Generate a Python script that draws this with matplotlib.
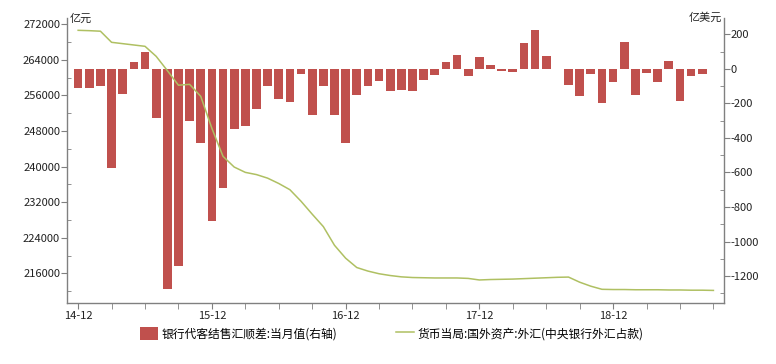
import numpy as np
import matplotlib
matplotlib.use('Agg')
import matplotlib.pyplot as plt
from matplotlib.ticker import MultipleLocator, FixedLocator

plt.rcParams['font.family'] = ['Noto Sans CJK SC', 'DejaVu Sans']
plt.rcParams['axes.unicode_minus'] = False

# months from 14-12 to 19-09
months = ['14-12'] + ['%02d-%02d' % (y, m) for y in range(15, 20) for m in range(1, 13)]
months = months[:58]

# 货币当局:国外资产:外汇 (亿元), left axis
fx_holdings = [270650, 270570, 270450, 267950, 267650, 267350, 267050, 264800,
               261600, 258300, 258500, 255800, 248600, 242300, 239900, 238700,
               238200, 237400, 236200, 234800, 232200, 229300, 226500, 222300,
               219400, 217300, 216500, 215900, 215500, 215200, 215050, 215000,
               214950, 214950, 214950, 214850, 214500, 214600, 214650, 214700,
               214800, 214900, 215000, 215100, 215150, 214000, 213100, 212400,
               212350, 212350, 212300, 212300, 212300, 212250, 212250, 212200,
               212200, 212150]

# 银行代客结售汇顺差:当月值 (亿美元), right axis, 14-12 to 19-08
net_settlement = [-112, -114, -97, -576, -147, 42, 95, -284, -1277, -1140,
                  -300, -431, -879, -692, -348, -334, -232, -102, -174, -193,
                  -31, -267, -99, -269, -429, -153, -99, -68, -126, -122,
                  -131, -64, -37, 37, 77, -44, 68, 23, -15, -21,
                  149, 224, 72, -2, -91, -160, -33, -199, -77, 153,
                  -151, -23, -75, 46, -187, -39, -31]

bar_label = '银行代客结售汇顺差:当月值(右轴)'
line_label = '货币当局:国外资产:外汇(中央银行外汇占款)'

bar_color = '#C0504D'
line_color = '#AFC062'
axis_color = '#808080'

fig = plt.figure(figsize=(7.76, 3.64), dpi=100)
ax = fig.add_axes([67/776, 61/364, (724-67)/776, (303-18)/364])
ax2 = ax.twinx()

x_line = np.arange(len(fx_holdings))
x_bar = np.arange(len(net_settlement))

bars = ax2.bar(x_bar, net_settlement, width=0.78, color=bar_color, label=bar_label)
line, = ax.plot(x_line, fx_holdings, color=line_color, lw=1.1, label=line_label)

ax.set_zorder(ax2.get_zorder() + 1)
ax.patch.set_visible(False)

ax.set_xlim(-1, 57.95)
ax.set_ylim(209320, 273420)
ax2.set_ylim(-1356, 294)

ax.yaxis.set_major_locator(MultipleLocator(8000))
ax.yaxis.set_minor_locator(MultipleLocator(4000))
ax2.yaxis.set_major_locator(MultipleLocator(200))
ax2.yaxis.set_minor_locator(MultipleLocator(100))

major_x = [i for i in range(len(months)) if months[i].endswith('-12')]
ax.xaxis.set_major_locator(FixedLocator(major_x))
ax.set_xticklabels([months[i] for i in major_x])
ax.xaxis.set_minor_locator(FixedLocator(list(range(0, len(months), 3))))

for a in (ax, ax2):
    a.spines['top'].set_visible(False)
    for s in a.spines.values():
        s.set_color(axis_color)
        s.set_linewidth(1.0)
ax.spines['right'].set_visible(False)
ax2.spines['left'].set_visible(False)
ax2.spines['bottom'].set_visible(False)

ax.tick_params(axis='y', which='major', direction='out', length=4, color=axis_color,
               labelsize=8, labelcolor='#222222', pad=1)
ax.tick_params(axis='y', which='minor', direction='in', length=3, color=axis_color)
ax2.tick_params(axis='y', which='major', direction='out', length=4, color=axis_color,
                labelsize=8, labelcolor='#222222', pad=1)
ax2.tick_params(axis='y', which='minor', direction='in', length=3, color=axis_color)
ax.tick_params(axis='x', which='both', direction='out', length=4, color=axis_color,
               labelsize=8, labelcolor='#222222', pad=2)

fig.text(70/776, 1 - 19/364, '亿元', fontsize=8, color='#222222', va='center', ha='left')
fig.text(722/776, 1 - 18/364, '亿美元', fontsize=8, color='#222222', va='center', ha='right')

fig.legend([bars, line], [bar_label, line_label], loc='center', ncol=2,
           bbox_to_anchor=(0.505, 0.083), frameon=False, fontsize=8.5,
           handlelength=1.5, handleheight=1.3, handletextpad=0.3, columnspacing=5.0)

fig.savefig('out.png', dpi=100)
